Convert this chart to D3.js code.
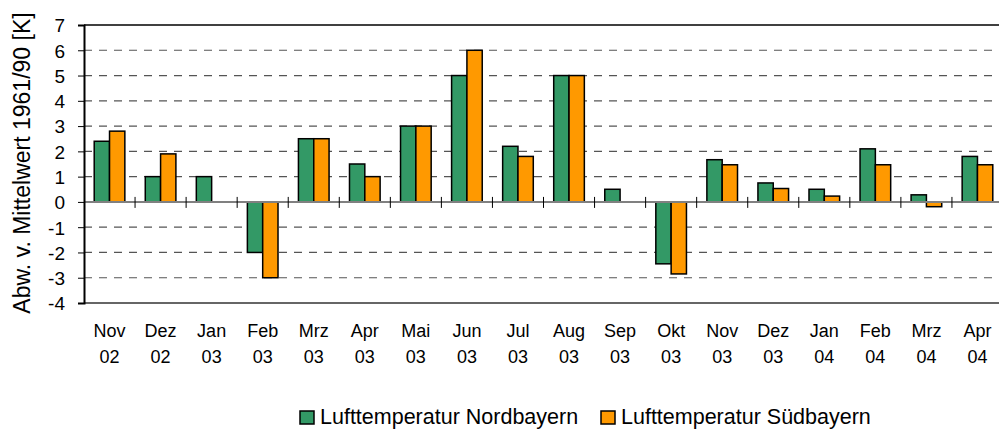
<!DOCTYPE html>
<html>
<head>
<meta charset="utf-8">
<script src="https://cdn.jsdelivr.net/npm/d3@7"></script>
<style>
body{margin:0;background:#fff;}
svg text{font-family:"Liberation Sans",Arial,sans-serif;fill:#000;}
</style>
</head>
<body>
<script>
var months = ['Nov','Dez','Jan','Feb','Mrz','Apr','Mai','Jun','Jul','Aug','Sep','Okt','Nov','Dez','Jan','Feb','Mrz','Apr'];
var years = ['02','02','03','03','03','03','03','03','03','03','03','03','03','03','04','04','04','04'];
var nord = [2.4,1.0,1.0,-2.0,2.5,1.5,3.0,5.0,2.2,5.0,0.5,-2.45,1.67,0.75,0.5,2.1,0.28,1.8];
var sued = [2.8,1.9,null,-3.0,2.5,1.0,3.0,6.0,1.8,5.0,null,-2.85,1.47,0.53,0.23,1.47,-0.19,1.47];
var seriesNames = ['Lufttemperatur Nordbayern','Lufttemperatur Südbayern'];
var colors = ['#339966','#ff9900'];
var yTicks = [-4,-3,-2,-1,0,1,2,3,4,5,6,7];

var width = 999, height = 430, margin = {left:84,top:25,right:-4,bottom:127};
var g_width = width - margin.left - margin.right, g_height = height - margin.top - margin.bottom;
var svg = d3.select('body').append('svg').attr('width',width).attr('height',height);
var g = svg.append('g').attr('transform','translate('+margin.left+','+margin.top+')');

var idx = d3.range(months.length);
var scale_x = d3.scaleBand().domain(idx).range([0,g_width]).paddingInner(0).paddingOuter(0);
var bw = scale_x.bandwidth();
var scale_s = d3.scaleBand().domain([0,1]).range([bw*0.2,bw*0.8]);
var scale_y = d3.scaleLinear().domain([-4,7]).range([g_height,0]);

// gridlines
g.append('g').selectAll('line').data(yTicks.filter(function(d){return d!==0&&d!==7&&d!==-4;}))
.enter().append('line')
.attr('x1',0).attr('x2',g_width)
.attr('y1',function(d){return scale_y(d);}).attr('y2',function(d){return scale_y(d);})
.attr('stroke','#555').attr('stroke-width',1.2).attr('stroke-dasharray','8,7');

// plot border top/bottom
g.append('line').attr('x1',0).attr('x2',g_width).attr('y1',scale_y(7)).attr('y2',scale_y(7)).attr('stroke','#000').attr('stroke-width',1.5);
g.append('line').attr('x1',0).attr('x2',g_width).attr('y1',scale_y(-4)).attr('y2',scale_y(-4)).attr('stroke','#333').attr('stroke-width',1.5);

// bars
var data = [];
idx.forEach(function(i){
  [nord[i],sued[i]].forEach(function(v,s){ if(v!==null) data.push({i:i,s:s,v:v}); });
});
g.append('g').selectAll('rect').data(data).enter().append('rect')
.attr('x',function(d){return scale_x(d.i)+scale_s(d.s);})
.attr('width',scale_s.bandwidth())
.attr('y',function(d){return scale_y(Math.max(0,d.v));})
.attr('height',function(d){return Math.abs(scale_y(d.v)-scale_y(0));})
.attr('fill',function(d){return colors[d.s];})
.attr('stroke','#000').attr('stroke-width',1.5);

// zero line with category ticks
g.append('line').attr('x1',0).attr('x2',g_width).attr('y1',scale_y(0)).attr('y2',scale_y(0)).attr('stroke','#808080').attr('stroke-width',2);
g.append('g').selectAll('line').data(idx.slice(1)).enter().append('line')
.attr('x1',function(d){return scale_x(d);}).attr('x2',function(d){return scale_x(d);})
.attr('y1',scale_y(0)-5).attr('y2',scale_y(0)+6)
.attr('stroke','#000').attr('stroke-width',1);

// y axis
var y_axis = d3.axisLeft(scale_y).tickValues(yTicks).tickSize(6).tickPadding(13).tickFormat(function(d){return String(d);});
var ya = g.append('g').call(y_axis);
ya.select('.domain').attr('stroke','#000').attr('stroke-width',2);
ya.selectAll('.tick line').attr('stroke','#000');
ya.selectAll('text').attr('font-size','19px').attr('font-family','"Liberation Sans",Arial,sans-serif').attr('dy','0.36em');

// x labels
var xl = g.append('g').selectAll('text').data(idx).enter().append('text')
.attr('text-anchor','middle').attr('font-size','18px')
.attr('transform',function(d){return 'translate('+(scale_x(d)+bw/2)+','+(337-margin.top)+')';});
xl.append('tspan').attr('x',0).attr('y',0).text(function(d){return months[d];});
xl.append('tspan').attr('x',0).attr('y',26).text(function(d){return years[d];});

// y title
svg.append('text').attr('transform','translate(30,163) rotate(-90)')
.attr('text-anchor','middle').attr('font-size','23px')
.text('Abw. v. Mittelwert 1961/90 [K]');

// legend
var legX = [300,601];
var leg = svg.append('g').selectAll('g').data(seriesNames).enter().append('g')
.attr('transform',function(d,i){return 'translate('+legX[i]+',411)';});
leg.append('rect').attr('width',14).attr('height',13).attr('fill',function(d,i){return colors[i];}).attr('stroke','#000').attr('stroke-width',1.5);
leg.append('text').attr('x',20).attr('y',13).attr('font-size','21.5px').text(function(d){return d;});
</script>
</body>
</html>
